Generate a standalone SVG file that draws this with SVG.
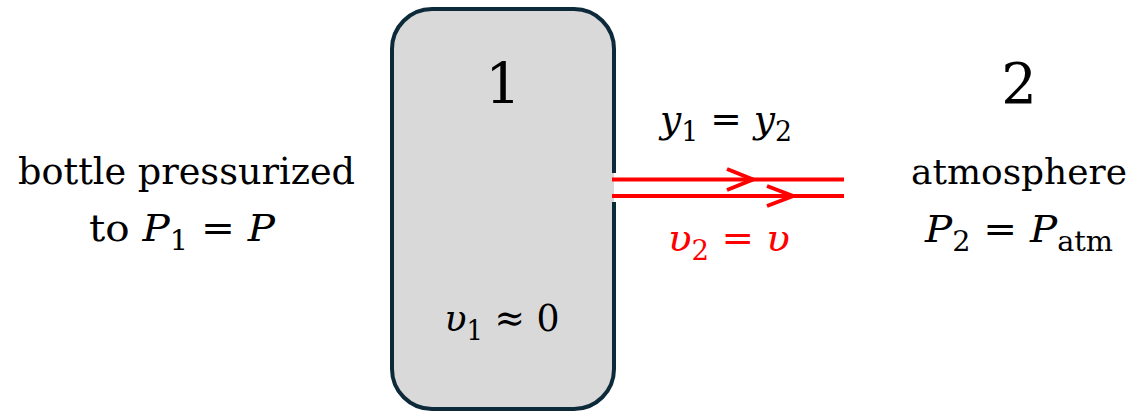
<svg xmlns="http://www.w3.org/2000/svg" width="1137" height="413" viewBox="0 0 1137 413">
<style>
text{font-family:'DejaVu Serif','Liberation Serif',serif;fill:#000;}
.lbl{font-size:38px;text-anchor:middle;}
.num{font-size:56px;text-anchor:middle;}
.i{font-style:italic;}
.sub{font-size:27px;}
.red{fill:#ff0000;}
.flow{stroke:#ff0000;stroke-width:4;fill:none;}
</style>
<rect width="1137" height="413" fill="#fff"/>
<g id="bottle">
<rect x="392" y="9" width="222" height="400" rx="40" fill="#d9d9d9"/>
<path d="M614,202 L614,369 A40,40 0 0 1 574,409 L432,409 A40,40 0 0 1 392,369 L392,49 A40,40 0 0 1 432,9 L574,9 A40,40 0 0 1 614,49 L614,173" fill="none" stroke="#0d2a3a" stroke-width="4"/>
<text class="num" x="503" y="103">1</text>
<text class="lbl" x="502" y="331" textLength="115" lengthAdjust="spacingAndGlyphs"><tspan class="i">υ</tspan><tspan class="sub" dy="9">1</tspan><tspan dy="-9"> ≈ 0</tspan></text>
</g>
<g id="left-label">
<text class="lbl" x="186.5" y="184" textLength="337" lengthAdjust="spacingAndGlyphs">bottle pressurized</text>
<text class="lbl" x="182" y="241" textLength="186" lengthAdjust="spacingAndGlyphs">to <tspan class="i">P</tspan><tspan class="sub" dy="9">1</tspan><tspan dy="-9"> = </tspan><tspan class="i">P</tspan></text>
</g>
<g id="atmosphere">
<text class="num" x="1019" y="103">2</text>
<text class="lbl" x="1019" y="184" style="font-size:36px" textLength="216" lengthAdjust="spacingAndGlyphs">atmosphere</text>
<text class="lbl" x="1019" y="242" textLength="188" lengthAdjust="spacingAndGlyphs"><tspan class="i">P</tspan><tspan class="sub" dy="9">2</tspan><tspan dy="-9"> = </tspan><tspan class="i">P</tspan><tspan class="sub" dy="9">atm</tspan></text>
</g>
<g id="connectors">
<line class="flow" x1="612" y1="179.5" x2="844" y2="179.5"/>
<line class="flow" x1="612" y1="196" x2="844" y2="196"/>
<polyline class="flow" points="727,169 753,179.5 727,190"/>
<polyline class="flow" points="767,186 793,196 767,206"/>
<text class="lbl" x="726" y="132" textLength="132" lengthAdjust="spacingAndGlyphs"><tspan class="i">y</tspan><tspan class="sub" dy="9">1</tspan><tspan dy="-9"> = </tspan><tspan class="i">y</tspan><tspan class="sub" dy="9">2</tspan></text>
<text class="lbl red" x="729" y="251" textLength="122" lengthAdjust="spacingAndGlyphs"><tspan class="i">υ</tspan><tspan class="sub" dy="9">2</tspan><tspan dy="-9"> = </tspan><tspan class="i">υ</tspan></text>
</g>
</svg>
